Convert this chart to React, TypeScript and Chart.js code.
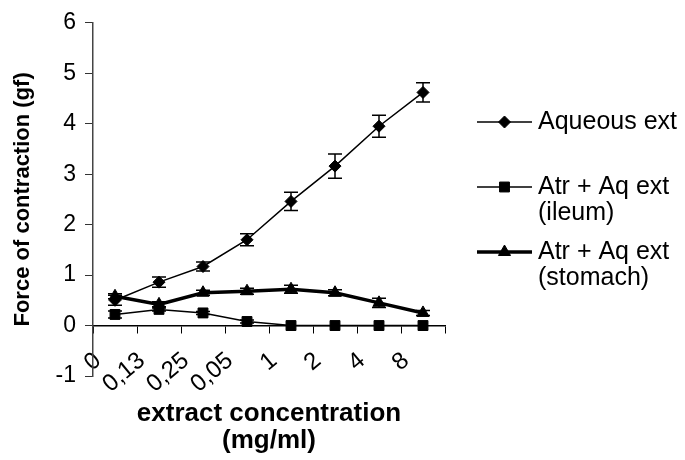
import React, { useEffect, useRef } from 'react';
import { Chart, registerables } from 'chart.js';
import { drawPoint } from 'chart.js/helpers';

Chart.register(...registerables);

// ---- data ----
const xTickLabels = ['0', '0,13', '0,25', '0,05', '1', '2', '4', '8'];
const categories = ['c1', 'c2', 'c3', 'c4', 'c5', 'c6', 'c7', 'c8'];
const aqueous = [0.5, 0.86, 1.17, 1.7, 2.46, 3.16, 3.95, 4.62];
const aqueousErr = [0.1, 0.1, 0.09, 0.12, 0.18, 0.24, 0.22, 0.19];
const ileum = [0.22, 0.32, 0.25, 0.08, 0, 0, 0, 0];
const ileumErr = [0.07, 0.03, 0.03, 0.03, 0, 0, 0, 0];
const stomach = [0.58, 0.42, 0.65, 0.68, 0.72, 0.65, 0.45, 0.25];
const stomachErr = [0.05, 0.05, 0.05, 0.06, 0.08, 0.06, 0.09, 0.05];
const seriesNames = ['Aqueous ext', 'Atr + Aq ext\n(ileum)', 'Atr + Aq ext\n(stomach)'];
const yMin = -1;
const yMax = 6;
const xTitle = ['extract concentration', '(mg/ml)'];
const yTitle = 'Force of contraction (gf)';

const FONT = '"Liberation Sans", Arial, sans-serif';

const errorBarPlugin = {
  id: 'errorBars',
  afterDatasetsDraw(chart: any) {
    const { ctx } = chart;
    const yScale = chart.scales.y;
    chart.data.datasets.forEach((ds: any, di: number) => {
      const errs: number[] = ds.errors || [];
      const meta = chart.getDatasetMeta(di);
      ctx.save();
      ctx.strokeStyle = '#000';
      ctx.lineWidth = 1.5;
      meta.data.forEach((pt: any, i: number) => {
        const v = ds.data[i] as number;
        const e = errs[i];
        if (!e) return;
        const yt = yScale.getPixelForValue(v + e);
        const yb = yScale.getPixelForValue(v - e);
        ctx.beginPath();
        ctx.moveTo(pt.x, yt);
        ctx.lineTo(pt.x, yb);
        ctx.moveTo(pt.x - 7, yt);
        ctx.lineTo(pt.x + 7, yt);
        ctx.moveTo(pt.x - 7, yb);
        ctx.lineTo(pt.x + 7, yb);
        ctx.stroke();
      });
      ctx.restore();
    });
  },
};

const sideLegendPlugin = {
  id: 'sideLegend',
  afterDraw(chart: any) {
    const { ctx, chartArea } = chart;
    const lineStart = chartArea.right + 32;
    const lineEnd = chartArea.right + 87;
    const markX = (lineStart + lineEnd) / 2;
    const textX = chartArea.right + 93;
    const rowY = [122, 187, 252];
    const lineGap = 26;
    chart.data.datasets.forEach((ds: any, i: number) => {
      const y = rowY[i];
      ctx.save();
      ctx.strokeStyle = '#000';
      ctx.fillStyle = '#000';
      ctx.lineWidth = ds.borderWidth;
      ctx.beginPath();
      ctx.moveTo(lineStart, y);
      ctx.lineTo(lineEnd, y);
      ctx.stroke();
      ctx.lineWidth = 1;
      drawPoint(ctx, { pointStyle: ds.pointStyle, radius: ds.pointRadius, rotation: 0, borderWidth: 1 } as any, markX, y);
      ctx.font = `25px ${FONT}`;
      ctx.textAlign = 'left';
      ctx.textBaseline = 'middle';
      String(ds.label).split('\n').forEach((t: string, k: number) => {
        ctx.fillText(t, textX, y + k * lineGap);
      });
      ctx.restore();
    });
  },
};

export default function App() {
  const ref = useRef<HTMLCanvasElement | null>(null);
  useEffect(() => {
    if (!ref.current) return;
    const chart = new Chart(ref.current, {
      type: 'line',
      data: {
        labels: categories,
        datasets: [
          {
            label: seriesNames[0],
            data: aqueous,
            errors: aqueousErr,
            borderColor: '#000',
            backgroundColor: '#000',
            borderWidth: 1.5,
            pointStyle: 'rectRot',
            pointRadius: 6,
            pointBorderWidth: 1,
            tension: 0,
          } as any,
          {
            label: seriesNames[1],
            data: ileum,
            errors: ileumErr,
            borderColor: '#000',
            backgroundColor: '#000',
            borderWidth: 1.5,
            pointStyle: 'rect',
            pointRadius: 7,
            pointBorderWidth: 1,
            tension: 0,
          } as any,
          {
            label: seriesNames[2],
            data: stomach,
            errors: stomachErr,
            borderColor: '#000',
            backgroundColor: '#000',
            borderWidth: 3.5,
            pointStyle: 'triangle',
            pointRadius: 7,
            pointBorderWidth: 1,
            tension: 0,
          } as any,
        ],
      },
      options: {
        responsive: false,
        animation: false,
        devicePixelRatio: 1,
        layout: { padding: { left: 0, top: 22, right: 240, bottom: 0 } },
        plugins: { legend: { display: false }, tooltip: { enabled: false } },
        scales: {
          x: {
            type: 'category',
            position: 'bottom',
            offset: true,
            ticks: { display: false },
            grid: { display: false },
            border: { display: false },
            title: {
              display: true,
              text: xTitle,
              color: '#000',
              font: { family: FONT, size: 26, weight: 'bold', lineHeight: 1.04 },
              padding: { top: 0, bottom: 6 },
            },
            afterFit: (s: any) => {
              s.height = 84;
            },
          },
          xt: {
            type: 'linear',
            axis: 'x',
            position: { y: 0 },
            min: 0,
            max: xTickLabels.length,
            ticks: {
              stepSize: 1,
              autoSkip: false,
              minRotation: 40,
              maxRotation: 40,
              padding: 14,
              labelOffset: 5,
              color: '#000',
              font: { family: FONT, size: 24 },
              callback: (v: any) => xTickLabels[v as number] ?? '',
            },
            grid: { display: true, drawOnChartArea: false, drawTicks: true, tickLength: 7, color: '#000', lineWidth: 1 },
            border: { display: true, color: '#000', width: 1.5 },
          } as any,
          y: {
            type: 'linear',
            position: 'left',
            min: yMin,
            max: yMax,
            ticks: {
              stepSize: 1,
              padding: 9,
              color: '#000',
              font: { family: FONT, size: 23 },
            },
            grid: { display: true, drawOnChartArea: false, drawTicks: true, tickLength: 8, color: '#333' },
            border: { display: true, color: '#444', width: 1.5 },
            title: {
              display: true,
              text: yTitle,
              color: '#000',
              font: { family: FONT, size: 22, weight: 'bold', lineHeight: 1.2 },
              padding: { top: 10, bottom: 0 },
            },
            afterFit: (s: any) => {
              s.width = 93;
            },
          },
        },
      },
      plugins: [errorBarPlugin, sideLegendPlugin],
    } as any);
    return () => chart.destroy();
  }, []);
  return (
    <div style={{ position: 'absolute', left: 0, top: 0, width: 685, height: 460, background: '#fff' }}>
      <canvas ref={ref} width={685} height={460} />
    </div>
  );
}
